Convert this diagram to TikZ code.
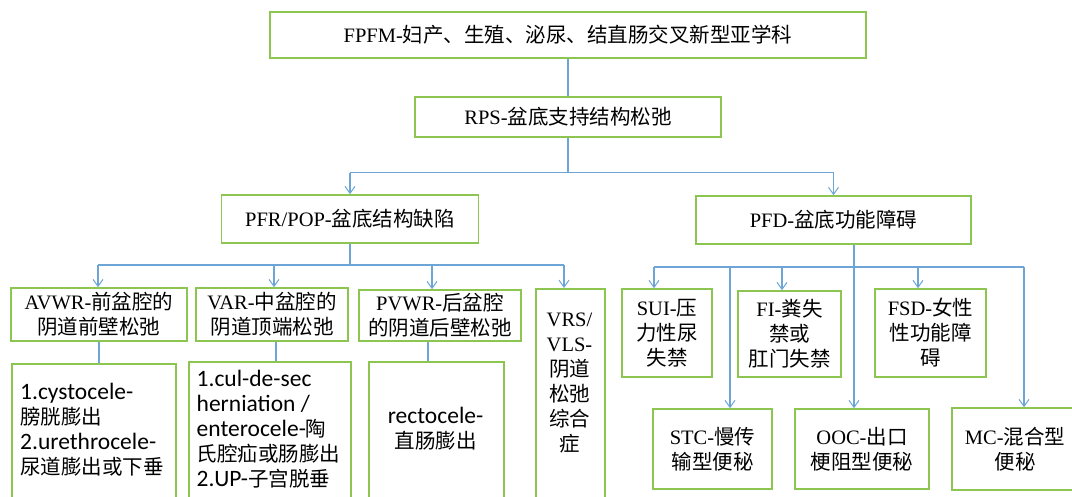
\documentclass[tikz,border=0pt]{standalone}
\usepackage{fontspec}
\setmainfont{Liberation Serif}
\newfontfamily\cjk{Noto Sans CJK SC}
\newfontfamily\calfont{Carlito}
\usetikzlibrary{arrows.meta}
\definecolor{boxgreen}{RGB}{140,198,80}
\definecolor{lineblue}{RGB}{110,165,215}
\newcommand\zh[1]{{\cjk #1}}
\newcommand\zd[1]{{\cjk\fontsize{20.5}{25}\selectfont #1}}
\begin{document}
\begin{tikzpicture}[x=1pt,y=-1pt,
 box/.style={draw=boxgreen,line width=1.6pt,fill=white,inner sep=0pt,align=center,font=\fontsize{20.5}{25}\selectfont},
 htext/.style={inner sep=0pt,align=center,font=\fontsize{20.5}{25}\selectfont},
 conn/.style={draw=lineblue,line width=1.1pt},
 arr/.style={conn,-{Straight Barb[length=7pt,width=10pt,line width=1pt]}},
 dtext/.style={inner sep=0pt,font=\calfont\fontsize{23.5}{25}\selectfont},
]
\useasboundingbox (0,0) rectangle (1072,497);
\clip (0,0) rectangle (1072,497);
\fill[white] (0,0) rectangle (1072,497);

% level 0-2
\node[box,minimum width=596,minimum height=46] (fpfm) at (568,35) {FPFM-\zh{妇产、生殖、泌尿、结直肠交叉新型亚学科}};
\node[box,minimum width=306,minimum height=40] (rps) at (568,117) {RPS-\zh{盆底支持结构松弛}};
\node[box,minimum width=257,minimum height=48] (pfr) at (350,219) {PFR/POP-\zh{盆底结构缺陷}};
\node[box,minimum width=275,minimum height=48] (pfd) at (833.5,220) {PFD-\zh{盆底功能障碍}};

% level 3 left
\node[box,minimum width=176,minimum height=53] (avwr) at (99,314.5) {AVWR-\zh{前盆腔的}\\\zh{阴道前壁松弛}};
\node[box,minimum width=152,minimum height=53] (var) at (272,314.5) {VAR-\zh{中盆腔的}\\\zh{阴道顶端松弛}};
\node[box,minimum width=162,minimum height=51] (pvwr) at (440,315.5) {PVWR-\zh{后盆腔}\\\zh{的阴道后壁松弛}};
\node[box,anchor=north west,minimum width=69,minimum height=240] (vrs) at (535,288) {};
\node[htext,anchor=north] (vrst) at (569.5,313) {VRS/\\VLS-\\\zh{阴道}\\\zh{松弛}\\\zh{综合}\\\zh{症}};

% level 4 left
\node[box,anchor=north west,minimum width=164,minimum height=160] (avd) at (11,363) {};
\node[dtext,anchor=north west,align=left] (avdt) at (20,383) {1.cystocele-\\\zd{膀胱膨出}\\2.urethrocele-\\\zd{尿道膨出或下垂}};
\node[box,anchor=north west,minimum width=162,minimum height=160] (vard) at (188,361) {};
\node[dtext,anchor=north west,align=left] (vardt) at (196.5,370) {1.cul-de-sec\\herniation /\\enterocele-\zd{陶}\\\zd{氏腔疝或肠膨出}\\2.UP-\zd{子宫脱垂}};
\node[box,anchor=north west,minimum width=135,minimum height=160] (pvd) at (368,361) {};
\node[dtext,anchor=north,align=center] (pvdt) at (435.5,407) {rectocele-\\\zd{直肠膨出}};

% right side
\node[box,minimum width=90,minimum height=88] (sui) at (667,333) {SUI-\zh{压}\\\zh{力性尿}\\\zh{失禁}};
\node[box,minimum width=103,minimum height=86] (fi) at (789.5,334) {FI-\zh{粪失}\\\zh{禁或}\\\zh{肛门失禁}};
\node[box,minimum width=111,minimum height=88] (fsd) at (930.5,333) {FSD-\zh{女性}\\\zh{性功能障}\\\zh{碍}};
\node[box,minimum width=119,minimum height=80] (stc) at (712.5,449) {STC-\zh{慢传}\\\zh{输型便秘}};
\node[box,minimum width=134,minimum height=80] (ooc) at (862,449) {OOC-\zh{出口}\\\zh{梗阻型便秘}};
\node[box,minimum width=126,minimum height=82] (mc) at (1015,449) {MC-\zh{混合型}\\\zh{便秘}};

% connectors top
\draw[conn] (fpfm.south) -- (rps.north);
\path (rps.south) ++(0,35) coordinate (j1);
\coordinate (j1l) at (pfr.north |- j1);
\coordinate (j1r) at (pfd.north |- j1);
\draw[conn] (rps.south) -- (j1);
\draw[conn] (j1l) -- (j1r);
\draw[arr] (j1l) -- (pfr.north);
\draw[arr] (j1r) -- (pfd.north);

% connectors left
\path (pfr.south) ++(0,22) coordinate (j2);
\draw[conn] (pfr.south) -- (j2);
\coordinate (b2a) at (98,265);
\coordinate (b2b) at (274,265);
\coordinate (b2c) at (432,265);
\coordinate (b2d) at (564,265);
\draw[conn] (b2a) -- (b2d);
\draw[arr] (b2a) -- (b2a |- avwr.north);
\draw[arr] (b2b) -- (b2b |- var.north);
\draw[arr] (b2c) -- (b2c |- pvwr.north);
\draw[arr] (b2d) -- (b2d |- vrs.north);
\draw[conn] (avwr.south) -- (avwr.south |- avd.north);
\draw[conn] ([xshift=4pt]var.south) -- ([xshift=4pt]var.south |- vard.north);
\draw[conn] ([xshift=-12pt]pvwr.south) -- ([xshift=-12pt]pvwr.south |- pvd.north);

% connectors right
\draw[arr] ([xshift=20.5pt]pfd.south) -- ([xshift=20.5pt]pfd.south |- ooc.north);
\coordinate (b3a) at (654,267);
\coordinate (b3b) at (730,267);
\coordinate (b3c) at (782,267);
\coordinate (b3d) at (918,267);
\coordinate (b3e) at (1024,267);
\draw[conn] (b3a) -- (b3e);
\draw[arr] (b3a) -- (b3a |- sui.north);
\draw[arr] (b3b) -- (b3b |- stc.north);
\draw[arr] (b3c) -- (b3c |- fi.north);
\draw[arr] (b3d) -- (b3d |- fsd.north);
\draw[arr] (b3e) -- (b3e |- mc.north);
\end{tikzpicture}
\end{document}
